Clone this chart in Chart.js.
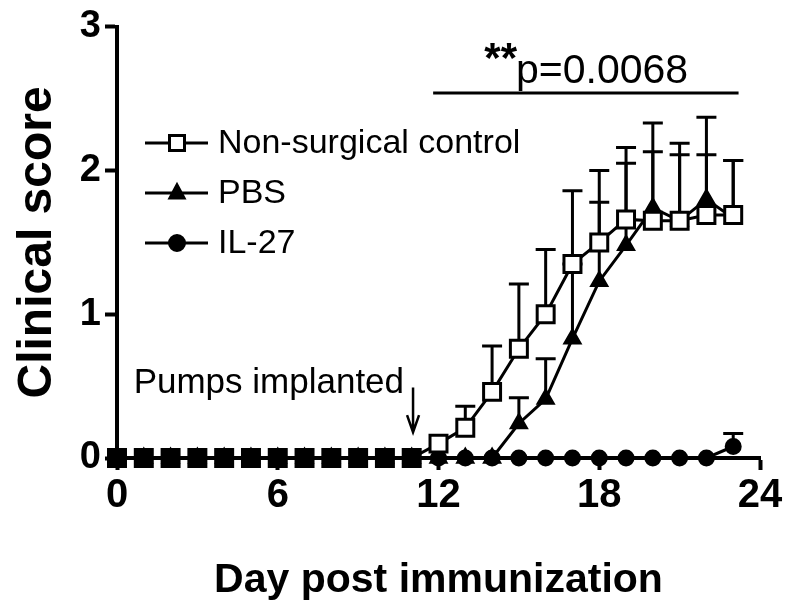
<!DOCTYPE html>
<html>
<head>
<meta charset="utf-8">
<script src="https://cdn.jsdelivr.net/npm/chart.js"></script>
<style>
  body { margin: 0; background: #fff; }
  #wrap { width: 797px; height: 610px; }
</style>
</head>
<body>
<div id="wrap"><canvas id="scoreChart" width="797" height="610"></canvas></div>
<script>
const days = [0, 1, 2, 3, 4, 5, 6, 7, 8, 9, 10, 11, 12, 13, 14, 15, 16, 17, 18, 19, 20, 21, 22, 23];
const controlScore = [0, 0, 0, 0, 0, 0, 0, 0, 0, 0, 0, 0, 0.1, 0.21, 0.46, 0.76, 1.0, 1.35, 1.5, 1.66, 1.65, 1.65, 1.69, 1.69];
const controlUpper = [0, 0, 0, 0, 0, 0, 0, 0, 0, 0, 0, 0, 0.1, 0.36, 0.78, 1.21, 1.45, 1.86, 2.0, 2.16, 2.13, 2.11, 2.11, 2.07];
const pbsScore = [0, 0, 0, 0, 0, 0, 0, 0, 0, 0, 0, 0, 0, 0, 0, 0.24, 0.41, 0.83, 1.23, 1.48, 1.74, 1.65, 1.8, 1.67];
const pbsUpper = [0, 0, 0, 0, 0, 0, 0, 0, 0, 0, 0, 0, 0, 0, 0, 0.42, 0.69, 1.35, 1.78, 2.05, 2.33, 2.19, 2.37, 2.07];
const il27Score = [0, 0, 0, 0, 0, 0, 0, 0, 0, 0, 0, 0, 0, 0, 0, 0, 0, 0, 0, 0, 0, 0, 0, 0.08];
const il27Upper = [0, 0, 0, 0, 0, 0, 0, 0, 0, 0, 0, 0, 0, 0, 0, 0, 0, 0, 0, 0, 0, 0, 0, 0.17];
const seriesNames = ["Non-surgical control", "PBS", "IL-27"];
const xTicks = [0, 6, 12, 18, 24];
const yTicks = [0, 1, 2, 3];

// annotations (data units)
const pValueText = "p=0.0068";
const sigFrom = 11.8, sigTo = 23.2, sigLevel = 2.54;
const pumpText = "Pumps implanted";
const pumpDay = 11.05;

const FONT = "'Liberation Sans', Arial, Helvetica, sans-serif";
Chart.defaults.font.family = FONT;
Chart.defaults.color = "#000";

const errorTops = [controlUpper, pbsUpper, il27Upper];

function toPoints(values) {
  return values.map((v, i) => ({ x: days[i], y: v }));
}

// squares where all three groups sit together look solid
const controlFill = controlScore.map((v, i) =>
  v === pbsScore[i] && v === il27Score[i] ? "#000" : "#fff");

function drawMarker(ctx, style, cx, cy, filled) {
  ctx.beginPath();
  if (style === "rect") {
    ctx.rect(cx - 7.5, cy - 7.5, 15, 15);
  } else if (style === "triangle") {
    ctx.moveTo(cx, cy - 8);
    ctx.lineTo(cx + 7, cy + 5);
    ctx.lineTo(cx - 7, cy + 5);
    ctx.closePath();
  } else {
    ctx.arc(cx, cy, 7.5, 0, Math.PI * 2);
  }
  ctx.fillStyle = filled ? "#000" : "#fff";
  ctx.fill();
  ctx.stroke();
}

const errorBars = {
  id: "errorBars",
  beforeDatasetsDraw(chart) {
    const { ctx, scales: { x, y } } = chart;
    ctx.save();
    ctx.strokeStyle = "#000";
    ctx.lineWidth = 3;
    errorTops.forEach((tops, d) => {
      const values = chart.data.datasets[d].data;
      tops.forEach((top, i) => {
        if (top <= values[i].y) return;
        const px = x.getPixelForValue(values[i].x);
        const y0 = y.getPixelForValue(values[i].y);
        const y1 = y.getPixelForValue(top);
        ctx.beginPath();
        ctx.moveTo(px, y0);
        ctx.lineTo(px, y1);
        ctx.moveTo(px - 10, y1);
        ctx.lineTo(px + 10, y1);
        ctx.stroke();
      });
    });
    ctx.restore();
  }
};

const extras = {
  id: "extras",
  afterDraw(chart) {
    const { ctx, scales: { x, y } } = chart;
    ctx.save();
    ctx.strokeStyle = "#000";
    ctx.fillStyle = "#000";

    // legend
    const styles = ["rect", "triangle", "circle"];
    const filled = [false, true, true];
    ctx.lineWidth = 3;
    seriesNames.forEach((name, k) => {
      const ry = 143 + k * 50;
      ctx.beginPath();
      ctx.moveTo(145, ry);
      ctx.lineTo(208, ry);
      ctx.stroke();
      drawMarker(ctx, styles[k], 177, ry, filled[k]);
      ctx.fillStyle = "#000";
      ctx.font = "34px " + FONT;
      ctx.textAlign = "left";
      ctx.textBaseline = "middle";
      ctx.fillText(name, 218, ry + 1);
    });

    // significance bar
    const sy = y.getPixelForValue(sigLevel);
    ctx.lineWidth = 3;
    ctx.beginPath();
    ctx.moveTo(x.getPixelForValue(sigFrom), sy);
    ctx.lineTo(x.getPixelForValue(sigTo), sy);
    ctx.stroke();
    ctx.textBaseline = "alphabetic";
    ctx.font = "41px " + FONT;
    ctx.textAlign = "left";
    ctx.fillText(pValueText, 516, sy - 10);
    ctx.font = "bold 42px " + FONT;
    ctx.textAlign = "right";
    ctx.fillText("**", 517, sy - 21);

    // pump arrow
    const ax = x.getPixelForValue(pumpDay);
    const tip = y.getPixelForValue(0.18);
    ctx.lineWidth = 2.5;
    ctx.beginPath();
    ctx.moveTo(ax, y.getPixelForValue(0.49));
    ctx.lineTo(ax, tip);
    ctx.moveTo(ax - 6, tip - 17);
    ctx.lineTo(ax, tip);
    ctx.lineTo(ax + 6, tip - 17);
    ctx.stroke();
    ctx.font = "35px " + FONT;
    ctx.textAlign = "right";
    ctx.fillText(pumpText, ax - 9, y.getPixelForValue(0.45));
    ctx.restore();
  }
};

const lineBase = {
  borderColor: "#000",
  borderWidth: 3,
  pointBorderColor: "#000",
  pointBorderWidth: 3,
  tension: 0,
  fill: false,
  clip: false
};

new Chart(document.getElementById("scoreChart"), {
  type: "line",
  data: {
    datasets: [
      { ...lineBase, label: seriesNames[0], data: toPoints(controlScore),
        pointStyle: "rect", pointRadius: 12, pointBackgroundColor: controlFill },
      { ...lineBase, label: seriesNames[1], data: toPoints(pbsScore),
        pointStyle: "triangle", pointRadius: 8.5, pointBackgroundColor: "#000" },
      { ...lineBase, label: seriesNames[2], data: toPoints(il27Score),
        pointStyle: "circle", pointRadius: 7, pointBackgroundColor: "#000" }
    ]
  },
  options: {
    responsive: false,
    animation: false,
    layout: { padding: { left: 0, right: 37, top: 25, bottom: 0 } },
    plugins: { legend: { display: false }, tooltip: { enabled: false } },
    scales: {
      x: {
        type: "linear",
        min: 0,
        max: 24,
        afterFit: (s) => { s.height = 152; },
        afterBuildTicks: (s) => { s.ticks = xTicks.map((v) => ({ value: v })); },
        border: { display: true, color: "#000", width: 4 },
        grid: { drawOnChartArea: false, drawTicks: true, tickLength: 12, tickWidth: 4, tickColor: "#000" },
        ticks: { color: "#000", font: { size: 40, weight: "bold" }, padding: 2, maxRotation: 0, autoSkip: false },
        title: { display: true, text: "Day post immunization", color: "#000",
          font: { size: 41, weight: "bold" }, padding: { top: 0, bottom: 5 } }
      },
      y: {
        min: 0,
        max: 3,
        afterFit: (s) => { s.width = 117; },
        afterBuildTicks: (s) => { s.ticks = yTicks.map((v) => ({ value: v })); },
        border: { display: true, color: "#000", width: 4 },
        grid: { drawOnChartArea: false, drawTicks: true, tickLength: 12, tickWidth: 4, tickColor: "#000" },
        ticks: { color: "#000", font: { size: 38, weight: "bold" }, padding: 4 },
        title: { display: true, text: "Clinical score", color: "#000",
          font: { size: 48, weight: "bold" }, padding: { top: 9, bottom: 0 } }
      }
    }
  },
  plugins: [errorBars, extras]
});
</script>
</body>
</html>
